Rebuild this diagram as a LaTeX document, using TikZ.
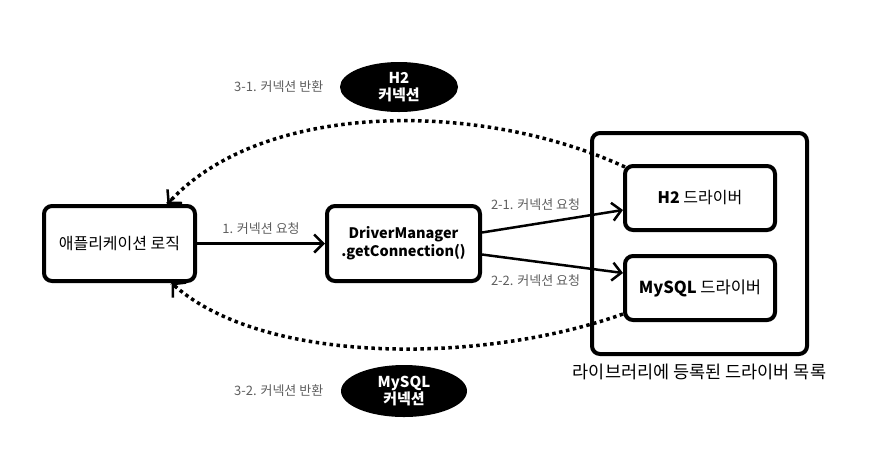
\documentclass[tikz,border=0pt]{standalone}
\usepackage{fontspec}
\setmainfont{Noto Sans CJK KR}
\usetikzlibrary{positioning,arrows.meta,shapes.geometric}
\definecolor{labelgray}{HTML}{5E5E5E}
\begin{document}
\begin{tikzpicture}[x=1pt, y=-1pt, node distance=22pt,
    box/.style={draw, rectangle, rounded corners=8pt, line width=4pt, align=center, font=\fontsize{16}{19}\selectfont},
    conn/.style={ellipse, fill=black, text=white, inner sep=0pt, align=center, font=\fontsize{15}{17}\selectfont\bfseries},
    lbl/.style={text=labelgray, font=\fontsize{13}{15}\selectfont},
    req/.style={line width=2.5pt, -{Straight Barb[length=9pt, width=18pt]}},
    ret/.style={line width=3.5pt, dash pattern=on 3.5pt off 3.5pt},
    rettip/.style={line width=2.5pt, -{Straight Barb[length=9pt, width=20pt]}}]
    \useasboundingbox (0,0) rectangle (877,451);

    \node[box, minimum width=151pt, minimum height=75pt] (app) at (119.5,243.5) {애플리케이션 로직};
    \node[box, minimum width=153pt, minimum height=75pt, right=128pt of app, font=\fontsize{14.5}{18}\selectfont\bfseries] (dm) {DriverManager\\.getConnection()};
    \node[box, minimum width=215pt, minimum height=221pt] (lib) at (699.5,243.5) {};
    \node[box, minimum width=150pt, minimum height=64pt] (h2) at (700,198) {\textbf{H2} 드라이버};
    \node[box, minimum width=150pt, minimum height=64pt, below=22pt of h2, font=\fontsize{16.5}{19}\selectfont] (mysql) {\textbf{MySQL} 드라이버};
    \node[below=4pt of lib, font=\fontsize{17.5}{20}\selectfont] (libname) {라이브러리에 등록된 드라이버 목록};

    \node[conn, minimum width=118pt, minimum height=50pt] (h2conn) at (399,87) {H2\\커넥션};
    \node[lbl, left=13pt of h2conn] (ret1) {3-1. 커넥션 반환};
    \node[conn, minimum width=126pt, minimum height=52pt] (myconn) at (404,391) {MySQL\\커넥션};
    \node[lbl, left=14pt of myconn] (ret2) {3-2. 커넥션 반환};

    \draw[req] (app) -- node[lbl, above=4pt] {1. 커넥션 요청} (dm);
    \draw[req] ([yshift=11pt]dm.east) -- node[lbl, pos=0.38, above=9pt] {2-1. 커넥션 요청} ([yshift=-12pt]h2.west);
    \draw[req] ([yshift=-11pt]dm.east) -- node[lbl, pos=0.38, below=9pt] {2-2. 커넥션 요청} ([yshift=15pt]mysql.west);
    % dotted returns, tips drawn solid on their own
    \draw[ret] ([shift={(2pt,-3pt)}]h2.north west) .. controls (480,100) and (260,100) .. coordinate[pos=0.98] (r1) ([xshift=48pt]app.north) coordinate (e1);
    \draw[ret] ([yshift=8pt]mysql.south west) .. controls (480,365) and (260,365) .. coordinate[pos=0.98] (r2) ([xshift=52pt]app.south) coordinate (e2);
    \draw[rettip] (r1) -- (e1);
    \draw[rettip] (r2) -- (e2);
\end{tikzpicture}
\end{document}
